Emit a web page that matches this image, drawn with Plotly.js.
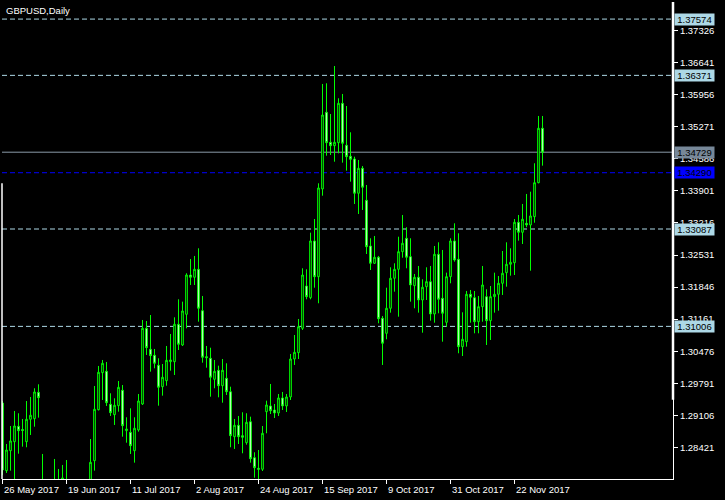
<!DOCTYPE html>
<html><head><meta charset="utf-8">
<script src="https://cdn.plot.ly/plotly-3.0.1.min.js"></script>
<style>html,body{margin:0;padding:0;background:#000;} #chart{width:725px;height:500px;}</style>
</head><body><div id="chart"></div>
<script>
const symbolTitle = 'GBPUSD,Daily';
const openP = [1.29369,1.27922,1.28349,1.28542,1.28870,1.28802,1.28542,1.29020,1.29033,1.29597,
1.2760,1.2735,1.2650,1.2740,1.2750,1.2760,1.2770,1.2725,1.2630,1.2670,
1.2690,1.2725,1.2715,1.28136,1.29225,1.30017,1.30046,1.29341,1.29119,1.29311,
1.29640,1.28777,1.28742,1.28349,1.28792,1.29347,1.30965,1.30516,1.30388,1.30175,
1.29717,1.29845,1.30251,1.30251,1.31051,1.30608,1.31264,1.32104,1.32055,1.32226,
1.31341,1.30358,1.30324,1.29875,1.30067,1.29738,1.29897,1.29610,1.28648,1.28892,
1.28670,1.28520,1.28969,1.28200,1.27973,1.27952,1.29183,1.29305,1.29219,1.29155,
1.29476,1.29305,1.29497,1.30309,1.30444,1.30965,1.31869,1.31619,1.32831,1.32068,
1.33943,1.35582,1.34941,1.34868,1.34932,1.35774,1.34877,1.34641,1.34584,1.33851,
1.34385,1.33701,1.32724,1.32354,1.32483,1.31179,1.30858,1.31393,1.32034,1.32226,
1.32603,1.32889,1.32496,1.31876,1.32055,1.31570,1.31854,1.31961,1.31271,1.32547,
1.31606,1.31093,1.32068,1.32831,1.32440,1.30572,1.30679,1.31692,1.31619,1.31106,
1.31427,1.31641,1.31128,1.31641,1.31692,1.31927,1.32154,1.32333,1.32367,1.33231,
1.33017,1.33209,1.33173,1.33351,1.34077,1.35240];
const highP = [1.29411,1.28492,1.28877,1.29198,1.29149,1.29027,1.29411,1.29497,1.29683,1.29768,
1.28279,1.2760,1.2750,1.28172,1.27958,1.28044,1.28150,1.2745,1.2700,1.2740,
1.2765,1.2760,1.28599,1.29732,1.30160,1.30288,1.30245,1.29576,1.29469,1.29839,
1.29753,1.29063,1.29255,1.29063,1.29561,1.31143,1.31121,1.31249,1.30523,1.30324,
1.30202,1.30587,1.30843,1.31200,1.31585,1.31534,1.32141,1.32446,1.32511,1.32675,
1.31656,1.30587,1.30550,1.30288,1.30166,1.30309,1.30217,1.29717,1.29027,1.29091,
1.29170,1.29149,1.29076,1.28315,1.28364,1.28877,1.29418,1.29775,1.29347,1.29561,
1.29604,1.29561,1.30416,1.30822,1.31164,1.32248,1.32226,1.33009,1.33301,1.34064,
1.36187,1.36202,1.35545,1.36571,1.35881,1.35973,1.35716,1.35154,1.34633,1.34562,
1.34434,1.34028,1.32889,1.32938,1.32511,1.31228,1.31833,1.32269,1.32354,1.32923,
1.33387,1.33124,1.32889,1.32126,1.32297,1.32013,1.32269,1.32297,1.32724,1.32803,
1.32639,1.32154,1.32889,1.33209,1.32996,1.31307,1.31763,1.31784,1.31763,1.31656,
1.32297,1.31799,1.31869,1.32154,1.32083,1.32617,1.32803,1.32675,1.33301,1.33387,
1.33622,1.33836,1.33885,1.34492,1.35503,1.35503];
const lowP = [1.27830,1.27873,1.27922,1.27616,1.28285,1.28435,1.28422,1.28685,1.28862,1.29055,
1.2635,1.2610,1.2630,1.2700,1.2690,1.2735,1.2715,1.2620,1.2590,1.2640,
1.2680,1.2695,1.2700,1.27922,1.29210,1.29433,1.29305,1.29091,1.28899,1.29183,
1.28648,1.28520,1.28279,1.28093,1.28755,1.29326,1.30395,1.30038,1.30110,1.29311,
1.29525,1.29738,1.30059,1.29967,1.30501,1.30587,1.30965,1.31891,1.31891,1.31106,
1.30230,1.30123,1.29503,1.29683,1.29490,1.29375,1.29540,1.28422,1.28386,1.28492,
1.28294,1.28477,1.28093,1.27772,1.27744,1.27915,1.28721,1.29133,1.29048,1.29091,
1.29219,1.29176,1.29433,1.30181,1.30309,1.30929,1.31585,1.31585,1.31833,1.31500,
1.33799,1.34654,1.34669,1.34526,1.34705,1.34505,1.34334,1.34099,1.33622,1.33408,
1.33494,1.32553,1.32211,1.32340,1.31072,1.30181,1.30730,1.31299,1.31748,1.31213,
1.32474,1.32248,1.31534,1.31393,1.31299,1.30871,1.31570,1.31128,1.31085,1.31286,
1.30679,1.30999,1.31927,1.32389,1.30431,1.30373,1.30572,1.31085,1.30858,1.30858,
1.31106,1.30608,1.30715,1.31299,1.31341,1.31677,1.31854,1.32090,1.32104,1.32838,
1.32767,1.33124,1.32196,1.33222,1.34064,1.34441];
const closeP = [1.27937,1.28364,1.28557,1.28877,1.28777,1.28781,1.29020,1.29106,1.29604,1.29482,
1.2745,1.2650,1.2740,1.2750,1.2760,1.27766,1.2725,1.2630,1.2670,1.2690,
1.2725,1.2715,1.28101,1.29234,1.30025,1.30217,1.29375,1.29161,1.29320,1.29704,
1.28884,1.28813,1.28456,1.28828,1.29411,1.30965,1.30551,1.30380,1.30217,1.29704,
1.29918,1.30281,1.30288,1.31051,1.30623,1.31335,1.32104,1.32055,1.32226,1.31393,
1.30345,1.30337,1.29918,1.30046,1.29738,1.30067,1.29610,1.28670,1.28892,1.28648,
1.28636,1.28956,1.28178,1.27986,1.27952,1.28721,1.29326,1.29204,1.29155,1.29476,
1.29305,1.29497,1.30309,1.30452,1.30999,1.32104,1.31641,1.32831,1.32068,1.33964,
1.35524,1.34932,1.34868,1.34941,1.35774,1.34919,1.34633,1.34577,1.33851,1.34385,
1.33979,1.32709,1.32354,1.32483,1.31170,1.30645,1.31393,1.32034,1.32226,1.32603,
1.32782,1.32483,1.31891,1.32055,1.31570,1.31842,1.31962,1.31271,1.32547,1.31585,
1.31286,1.32068,1.32831,1.32425,1.30572,1.30730,1.31692,1.31628,1.31106,1.31427,
1.31891,1.31128,1.31641,1.31692,1.31927,1.32141,1.32333,1.32376,1.33231,1.33017,
1.33295,1.33173,1.33366,1.34077,1.35240,1.34729];
const dateTickIndex = [0,16,32,48,64,80,96,112,128];
const dateTickText = ['26 May 2017','19 Jun 2017','11 Jul 2017','2 Aug 2017','24 Aug 2017','15 Sep 2017','9 Oct 2017','31 Oct 2017','22 Nov 2017'];
const priceTicks = [1.37326,1.36641,1.35956,1.35271,1.34586,1.33901,1.33216,1.32531,1.31846,1.31161,1.30476,1.29791,1.29106,1.28421];
const dashedLevels = [1.37574,1.36371,1.33087,1.31006];
const bidLevel = 1.34729;
const blueLevel = 1.34290;

const barIndex = openP.map((_, i) => i);
const FONT = '"Liberation Sans", Arial, sans-serif';
const FS = 9.5;

const trace = {
  type: 'candlestick', x: barIndex, open: openP, high: highP, low: lowP, close: closeP,
  increasing: {line: {color: '#00FF00', width: 1}, fillcolor: '#000000'},
  decreasing: {line: {color: '#00FF00', width: 1}, fillcolor: '#FFFFFF'},
  whiskerwidth: 0, hoverinfo: 'skip', showlegend: false
};

const shapes = [];
dashedLevels.forEach(v => shapes.push({type:'line', xref:'paper', x0:0, x1:1, yref:'y', y0:v, y1:v,
  line:{color:'#ADD8E6', width:1, dash:'5px,3px'}, layer:'below'}));
shapes.push({type:'line', xref:'paper', x0:0, x1:1, yref:'y', y0:bidLevel, y1:bidLevel, line:{color:'#8A9AA8', width:1}, layer:'below'});
shapes.push({type:'line', xref:'paper', x0:0, x1:1, yref:'y', y0:blueLevel, y1:blueLevel, line:{color:'#0000FF', width:1, dash:'5px,3px'}, layer:'below'});
shapes.push({type:'line', xref:'paper', x0:1, x1:1, yref:'paper', y0:0.166, y1:1, line:{color:'#FFFFFF', width:2.5}});
shapes.push({type:'line', xref:'paper', x0:0, x1:0, yref:'paper', y0:0, y1:0.62, line:{color:'#FFFFFF', width:1.5}});

const annotations = [];
annotations.push({text: symbolTitle, xref:'paper', yref:'paper', x:0, y:1, xanchor:'left', yanchor:'top', showarrow:false,
  xshift:2, yshift:-1, font:{family:FONT, size:FS, color:'#FFFFFF'}});
dateTickIndex.forEach((k, i) => annotations.push({text: dateTickText[i], xref:'x', yref:'paper', x:k, y:0,
  xanchor:'left', yanchor:'top', showarrow:false, xshift:-1, yshift:-3, font:{family:FONT, size:FS, color:'#FFFFFF'}}));
function levelLabel(v, bg) {
  annotations.push({text: v.toFixed(5), xref:'paper', yref:'y', x:1, y:v, xanchor:'left', yanchor:'middle', showarrow:false,
    xshift:1, bgcolor:bg, width:39, height:11, borderpad:0, font:{family:FONT, size:FS, color:'#000000'}});
}
dashedLevels.forEach(v => levelLabel(v, '#ADD8E6'));
levelLabel(bidLevel, '#778899');
levelLabel(blueLevel, '#0000FF');

const layout = {
  width: 725, height: 500,
  paper_bgcolor: '#000000', plot_bgcolor: '#000000',
  margin: {l: 2, r: 52, t: 2, b: 21},
  boxgap: 0.4,
  showlegend: false,
  xaxis: {range: [-0.125, 167.625], rangeslider: {visible: false}, showgrid: false, zeroline: false,
    tickvals: dateTickIndex, ticktext: dateTickText, showticklabels: false, ticks: 'outside', ticklen: 4, tickcolor: '#FFFFFF',
    showline: true, linecolor: '#FFFFFF', linewidth: 1, mirror: false, fixedrange: true},
  yaxis: {side: 'right', range: [1.27744, 1.37939], showgrid: false, zeroline: false,
    tickvals: priceTicks, ticktext: priceTicks.map(v => v.toFixed(5)), ticks: 'outside', ticklen: 4, tickcolor: '#FFFFFF',
    tickfont: {family: FONT, size: FS, color: '#FFFFFF'}, showline: true, linecolor: '#FFFFFF', linewidth: 1, fixedrange: true},
  shapes: shapes,
  annotations: annotations
};

Plotly.newPlot('chart', [trace], layout, {displayModeBar: false, staticPlot: true});
</script>
</body></html>
